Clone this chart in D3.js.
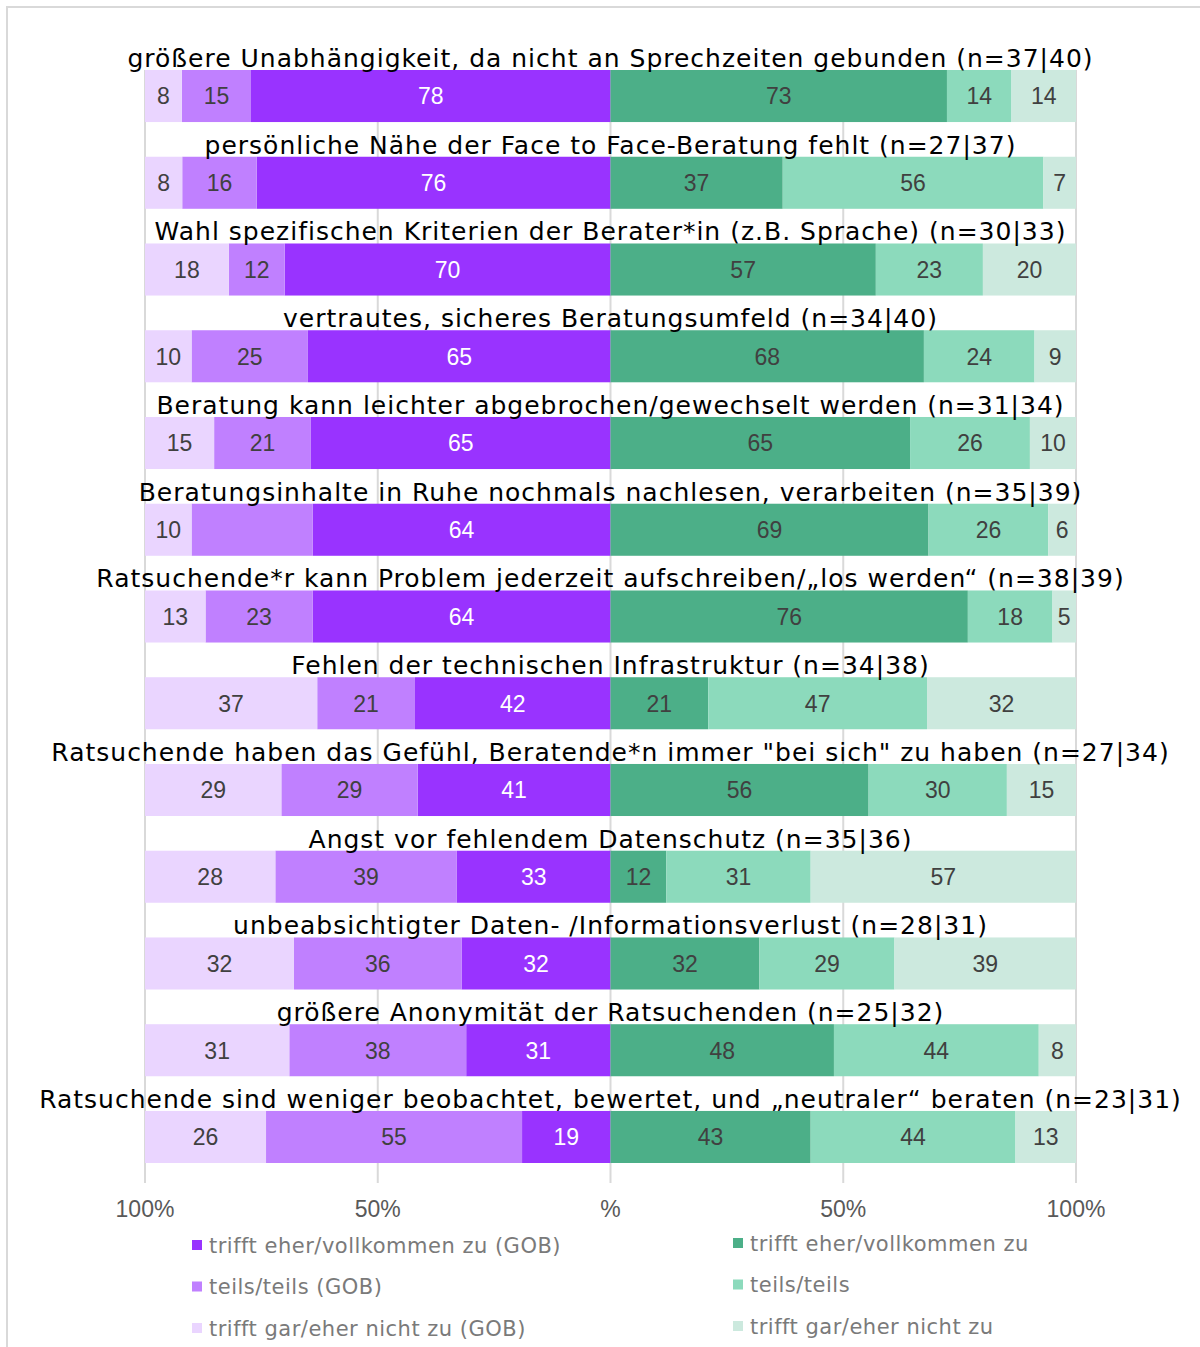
<!DOCTYPE html>
<html>
<head>
<meta charset="utf-8">
<script src="https://cdnjs.cloudflare.com/ajax/libs/d3/7.8.5/d3.min.js"></script>
<style>
  body { margin: 0; background: #fff; }
  svg { display: block; }
</style>
</head>
<body>
<main></main>
<script>
const categories = [
  'größere Unabhängigkeit, da nicht an Sprechzeiten gebunden (n=37|40)',
  'persönliche Nähe der Face to Face-Beratung fehlt (n=27|37)',
  'Wahl spezifischen Kriterien der Berater*in (z.B. Sprache) (n=30|33)',
  'vertrautes, sicheres Beratungsumfeld (n=34|40)',
  'Beratung kann leichter abgebrochen/gewechselt werden (n=31|34)',
  'Beratungsinhalte in Ruhe nochmals nachlesen, verarbeiten (n=35|39)',
  'Ratsuchende*r kann Problem jederzeit aufschreiben/„los werden“ (n=38|39)',
  'Fehlen der technischen Infrastruktur (n=34|38)',
  'Ratsuchende haben das Gefühl, Beratende*n immer "bei sich" zu haben (n=27|34)',
  'Angst vor fehlendem Datenschutz (n=35|36)',
  'unbeabsichtigter Daten- /Informationsverlust (n=28|31)',
  'größere Anonymität der Ratsuchenden (n=25|32)',
  'Ratsuchende sind weniger beobachtet, bewertet, und „neutraler“ beraten (n=23|31)'
];

// GOB group (left side)
const gobHigh = [78, 76, 70, 65, 65, 64, 64, 42, 41, 33, 32, 31, 19];
const gobMid  = [15, 16, 12, 25, 21, 26, 23, 21, 29, 39, 36, 38, 55];
const gobLow  = [8, 8, 18, 10, 15, 10, 13, 37, 29, 28, 32, 31, 26];

// other group (right side)
const othHigh = [73, 37, 57, 68, 65, 69, 76, 21, 56, 12, 32, 48, 43];
const othMid  = [14, 56, 23, 24, 26, 26, 18, 47, 30, 31, 29, 44, 44];
const othLow  = [14, 7, 20, 9, 10, 6, 5, 32, 15, 57, 39, 8, 13];

// labels not shown in the original
const hiddenLabels = ['gobMid-5'];

const tickValues = [-100, -50, 0, 50, 100];
const tickLabels = ['100%', '50%', '%', '50%', '100%'];

const leftLegend = ['trifft eher/vollkommen zu (GOB)', 'teils/teils (GOB)', 'trifft gar/eher nicht zu (GOB)'];
const rightLegend = ['trifft eher/vollkommen zu', 'teils/teils', 'trifft gar/eher nicht zu'];

const width = 1200;
const height = 1347;
const purple700 = '#9933ff';
const purple400 = '#c080ff';
const purple100 = '#ead5ff';
const green700 = '#4caf88';
const green400 = '#8cdabc';
const green100 = '#cce9de';

const series = [
  { key: 'gobHigh', values: gobHigh, side: -1, color: purple700, text: '#fff' },
  { key: 'gobMid', values: gobMid, side: -1, color: purple400, text: '#404040' },
  { key: 'gobLow', values: gobLow, side: -1, color: purple100, text: '#404040' },
  { key: 'othHigh', values: othHigh, side: 1, color: green700, text: '#404040' },
  { key: 'othMid', values: othMid, side: 1, color: green400, text: '#404040' },
  { key: 'othLow', values: othLow, side: 1, color: green100, text: '#404040' }
];

// build segments; rounded labels don't always add to 100, so each side is drawn as a full 100 %
const segments = [];
categories.forEach((c, i) => {
  [-1, 1].forEach(side => {
    const sideSeries = series.filter(s => s.side === side);
    const total = d3.sum(sideSeries, s => s.values[i]);
    let acc = 0;
    sideSeries.forEach(s => {
      const v = s.values[i];
      const share = v / total * 100;
      segments.push({
        cat: c, i, key: s.key, value: v, color: s.color, text: s.text,
        x0: side * acc, x1: side * (acc + share)
      });
      acc += share;
    });
  });
});

const xScale = d3.scaleLinear()
  .domain([-100, 100])
  .range([145, 1076]);

const yScale = d3.scaleBand()
  .domain(categories)
  .range([70, 1163])
  .paddingInner(0.4)
  .paddingOuter(0);

const svg = d3.select('main')
  .append('svg')
  .attr('width', width)
  .attr('height', height)
  .style('font-family', 'Liberation Sans, Arial, sans-serif');

// frame
svg.append('rect')
  .attr('x', 7)
  .attr('y', 7)
  .attr('width', 1400)
  .attr('height', 1500)
  .attr('fill', 'none')
  .attr('stroke', '#d9d9d9')
  .attr('stroke-width', 2);

// gridlines
svg.append('g')
  .attr('class', 'grid')
  .selectAll('line')
  .data(tickValues)
  .enter()
  .append('line')
  .attr('x1', d => xScale(d))
  .attr('x2', d => xScale(d))
  .attr('y1', yScale.range()[0])
  .attr('y2', 1183)
  .attr('stroke', '#d9d9d9')
  .attr('stroke-width', 2);

// bars
svg.append('g')
  .selectAll('.bar')
  .data(segments)
  .enter()
  .append('rect')
  .attr('class', 'bar')
  .attr('x', d => xScale(Math.min(d.x0, d.x1)))
  .attr('y', d => yScale(d.cat))
  .attr('width', d => Math.abs(xScale(d.x1) - xScale(d.x0)))
  .attr('height', yScale.bandwidth())
  .attr('fill', d => d.color);

// value labels
svg.append('g')
  .selectAll('text')
  .data(segments.filter(d => !hiddenLabels.includes(`${d.key}-${d.i}`)))
  .enter()
  .append('text')
  .text(d => d.value)
  .attr('x', d => (xScale(d.x0) + xScale(d.x1)) / 2)
  .attr('y', d => yScale(d.cat) + yScale.bandwidth() / 2)
  .attr('dy', '0.36em')
  .attr('text-anchor', 'middle')
  .style('font-size', '23px')
  .style('fill', d => d.text);

// category titles above each bar
svg.append('g')
  .selectAll('text')
  .data(categories)
  .enter()
  .append('text')
  .text(d => d)
  .attr('x', xScale(0))
  .attr('y', d => yScale(d) - 3)
  .attr('text-anchor', 'middle')
  .style('font-family', 'DejaVu Sans, Verdana, sans-serif')
  .style('font-size', '25px')
  .style('letter-spacing', '1px')
  .style('fill', '#000');

// x-axis labels
svg.append('g')
  .selectAll('text')
  .data(tickValues)
  .enter()
  .append('text')
  .text((d, i) => tickLabels[i])
  .attr('x', d => xScale(d))
  .attr('y', 1217)
  .attr('text-anchor', 'middle')
  .style('font-size', '23px')
  .style('fill', '#595959');

// legend
const legendCols = [
  { names: leftLegend, colors: [purple700, purple400, purple100], x: 192, y: 1245 },
  { names: rightLegend, colors: [green700, green400, green100], x: 733, y: 1243 }
];

legendCols.forEach(col => {
  const g = svg.append('g').attr('class', 'legend');
  col.names.forEach((name, i) => {
    const cy = col.y + i * 41.5;
    g.append('rect')
      .attr('x', col.x)
      .attr('y', cy - 5)
      .attr('width', 10)
      .attr('height', 10)
      .attr('fill', col.colors[i]);
    g.append('text')
      .text(name)
      .attr('x', col.x + 17)
      .attr('y', cy)
      .attr('dy', '0.36em')
      .style('font-family', 'DejaVu Sans, Verdana, sans-serif')
      .style('font-size', '21px')
      .style('letter-spacing', '0.5px')
      .style('fill', '#7a7a7a');
  });
});
</script>
</body>
</html>
